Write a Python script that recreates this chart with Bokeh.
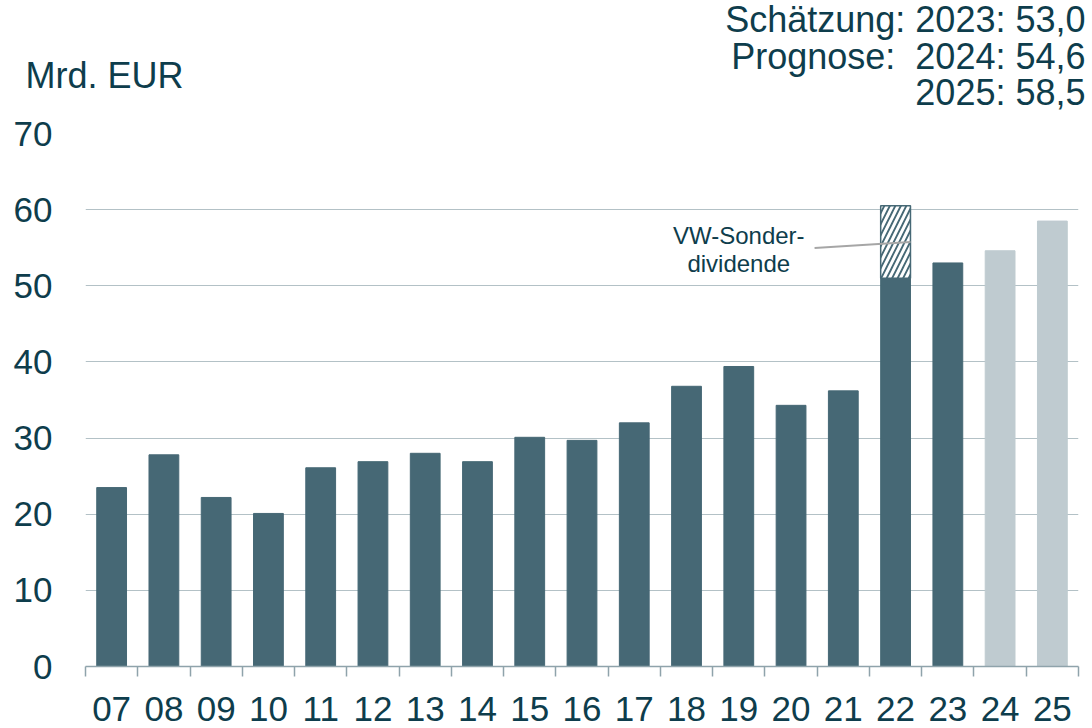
from bokeh.plotting import figure
from bokeh.layouts import column
from bokeh.models import Range1d, FixedTicker, Label, ColumnDataSource
from bokeh.embed import file_html
from bokeh.resources import INLINE

# ---- data ----
years = ["07", "08", "09", "10", "11", "12", "13", "14", "15", "16",
         "17", "18", "19", "20", "21", "22", "23", "24", "25"]
values = [23.5, 27.8, 22.2, 20.1, 26.1, 26.9, 28.0, 26.9, 30.1, 29.7,
          32.0, 36.8, 39.4, 34.3, 36.2, 51.0, 53.0, 54.6, 58.5]
kind = ["ist"] * 17 + ["prognose"] * 2
special_year = "22"
special_top = 60.5          # incl. VW-Sonderdividende
special_text = ["VW-Sonder-", "dividende"]
y_ticks = [0, 10, 20, 30, 40, 50, 60, 70]
unit_label = "Mrd. EUR"
header_lines = ["Schätzung: 2023: 53,0", "Prognose:\u00a0 2024: 54,6", "2025: 58,5"]

# ---- style ----
DARK = "#466875"
LIGHT = "#BFCBD0"
TEXT = "#0E3D4C"
GRID = "#B3C1C6"
AXIS = "#8FA3AB"
FONT = "Liberation Sans"
kind_color = {"ist": DARK, "prognose": LIGHT}
BAR_W = 0.57
W = 1092
TOP_H = 113
H = 728

# ---- header strip (texts above the plot area) ----
top = figure(width=W, height=TOP_H, output_backend="svg", toolbar_location=None,
             x_range=Range1d(0, W), y_range=Range1d(TOP_H, 0),
             x_axis_type=None, y_axis_type=None,
             min_border_left=0, min_border_right=0, min_border_top=0, min_border_bottom=0)
top.frame_align = False
top.outline_line_color = None
top.grid.grid_line_color = None
top.add_layout(Label(x=25, y=75, text=unit_label, text_align="left",
                     text_baseline="middle", text_font_size="36px", text_font=FONT,
                     text_color=TEXT))
for t, yy in zip(header_lines, [19, 55.5, 92]):
    top.add_layout(Label(x=1085, y=yy, text=t, text_align="right",
                         text_baseline="middle", text_font_size="36px", text_font=FONT,
                         text_color=TEXT))

# ---- bar chart ----
xs = list(range(len(years)))
src = ColumnDataSource(dict(x=xs, value=values, year=years,
                            color=[kind_color[k] for k in kind]))

p = figure(width=W, height=H - TOP_H, output_backend="svg", toolbar_location=None,
           x_range=Range1d(-0.5, len(years) - 0.5), y_range=Range1d(0, 70),
           min_border_left=85, min_border_right=14, min_border_top=20,
           min_border_bottom=62)
p.frame_align = False
p.outline_line_color = None
p.background_fill_color = "white"
p.border_fill_color = "white"

p.vbar(x="x", top="value", width=BAR_W, color="color", source=src)

# hatched special dividend segment
si = years.index(special_year)
base = values[si]
p.vbar(x=[si], bottom=[base], top=[special_top], width=BAR_W,
       fill_color=DARK, line_color=DARK, line_width=1.5,
       hatch_pattern="/", hatch_color="white", hatch_scale=11, hatch_weight=3)

mid = (base + special_top) / 2
p.segment(x0=[si - 1.55], y0=[mid - 0.8], x1=[si + BAR_W / 2], y1=[mid],
          line_color="#A6A6A6", line_width=2)
for t, dy in zip(special_text, [0.85, -2.8]):
    p.add_layout(Label(x=si - 3.0, y=mid + dy, text=t, text_align="center",
                       text_baseline="middle", text_font_size="24px",
                       text_font=FONT, text_color=TEXT))

# axes
xa = p.xaxis[0]
xa.ticker = FixedTicker(ticks=xs, minor_ticks=[x - 0.5 for x in xs] + [xs[-1] + 0.5])
xa.major_label_overrides = {i: y for i, y in zip(xs, years)}
xa.major_tick_line_color = None
xa.major_tick_out = 0
xa.major_tick_in = 0
xa.minor_tick_line_color = AXIS
xa.minor_tick_line_width = 1.5
xa.minor_tick_out = 10
xa.minor_tick_in = 0
xa.axis_line_color = AXIS
xa.axis_line_width = 1.5
xa.major_label_text_font = FONT
xa.major_label_text_font_size = "35px"
xa.major_label_text_color = TEXT
xa.major_label_standoff = 20

ya = p.yaxis[0]
ya.ticker = FixedTicker(ticks=y_ticks)
ya.axis_line_color = None
ya.major_tick_line_color = None
ya.minor_tick_line_color = None
ya.major_tick_out = 0
ya.major_label_text_font = FONT
ya.major_label_text_font_size = "35px"
ya.major_label_text_color = TEXT
ya.major_label_standoff = 33

p.xgrid.grid_line_color = None
p.ygrid.grid_line_color = GRID
p.ygrid.grid_line_width = 1
p.ygrid.ticker = FixedTicker(ticks=y_ticks[1:])

layout = column(top, p, spacing=0)
open("out.html", "w").write(file_html(layout, INLINE))
